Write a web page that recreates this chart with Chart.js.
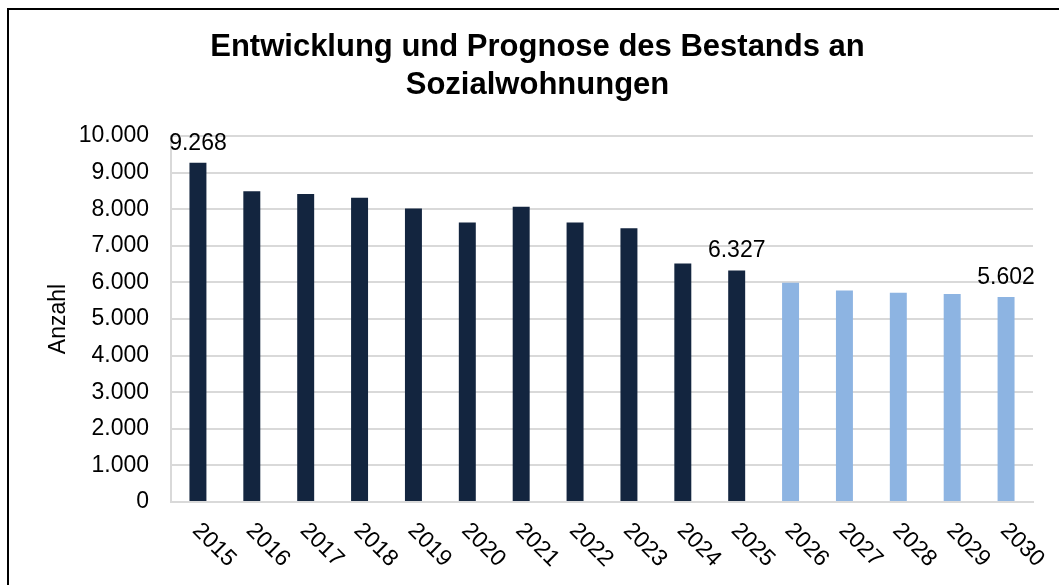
<!DOCTYPE html>
<html lang="de">
<head>
<meta charset="utf-8">
<title>Bestand an Sozialwohnungen</title>
<script src="https://cdn.jsdelivr.net/npm/chart.js@4/dist/chart.umd.min.js"></script>
<style>
    html, body { margin: 0; padding: 0; background: #ffffff; }
    #wrap { width: 1059px; height: 585px; }
</style>
</head>
<body>
<div id="wrap"><canvas id="chart" width="1059" height="585"></canvas></div>
<script>
// Daten
const jahre = ['2015', '2016', '2017', '2018', '2019', '2020', '2021', '2022',
               '2023', '2024', '2025', '2026', '2027', '2028', '2029', '2030'];
const bestand = [9268, 8490, 8415, 8315, 8020, 7640, 8070, 7640, 7480, 6520, 6327,
                 null, null, null, null, null];
const prognose = [null, null, null, null, null, null, null, null, null, null, null,
                  5990, 5780, 5720, 5680, 5602];
const labelJahre = ['2015', '2025', '2030'];
const yTicks = [0, 1000, 2000, 3000, 4000, 5000, 6000, 7000, 8000, 9000, 10000];

const FONT = '"Liberation Sans", Arial, sans-serif';

function formatDE(v) {
    return String(v).replace(/\B(?=(\d{3})+(?!\d))/g, '.');
}

// Rahmen um das Diagramm
const rahmenPlugin = {
    id: 'rahmen',
    beforeDraw(chart) {
        const ctx = chart.ctx;
        ctx.save();
        ctx.fillStyle = '#ffffff';
        ctx.fillRect(0, 0, chart.width, chart.height);
        ctx.strokeStyle = '#000000';
        ctx.lineWidth = 2;
        ctx.strokeRect(8, 9, chart.width + 20, chart.height + 20);
        ctx.restore();
    }
};

// schraege Jahresbeschriftung (nach rechts unten)
const xLabelPlugin = {
    id: 'xLabels',
    afterDraw(chart) {
        const ctx = chart.ctx;
        const xScale = chart.scales.x;
        ctx.save();
        ctx.fillStyle = '#000000';
        ctx.font = '23px ' + FONT;
        ctx.textAlign = 'left';
        ctx.textBaseline = 'middle';
        jahre.forEach((jahr, i) => {
            const x = xScale.getPixelForTick(i);
            ctx.save();
            ctx.translate(x - 2, xScale.top + 25);
            ctx.rotate(Math.PI / 4);
            ctx.fillText(jahr, 0, 0);
            ctx.restore();
        });
        ctx.restore();
    }
};

// Werte ueber ausgewaehlten Saeulen
const wertPlugin = {
    id: 'werte',
    afterDatasetsDraw(chart) {
        const ctx = chart.ctx;
        ctx.save();
        ctx.fillStyle = '#000000';
        ctx.font = '23px ' + FONT;
        ctx.textAlign = 'center';
        ctx.textBaseline = 'alphabetic';
        chart.data.datasets.forEach((ds, d) => {
            const meta = chart.getDatasetMeta(d);
            ds.data.forEach((v, i) => {
                if (v === null || !labelJahre.includes(jahre[i])) return;
                const bar = meta.data[i];
                ctx.fillText(formatDE(v), bar.x, bar.y - 13);
            });
        });
        ctx.restore();
    }
};

const ctx = document.getElementById('chart').getContext('2d');

const chart = new Chart(ctx, {
    type: 'bar',
    data: {
        labels: jahre,
        datasets: [{
            label: 'Bestand',
            data: bestand,
            backgroundColor: '#13253f',
            barPercentage: 0.315,
            categoryPercentage: 1
        }, {
            label: 'Prognose',
            data: prognose,
            backgroundColor: '#8db4e2',
            barPercentage: 0.315,
            categoryPercentage: 1
        }]
    },
    options: {
        responsive: false,
        animation: false,
        layout: {
            padding: { left: 42, right: 26, top: 0, bottom: 0 }
        },
        scales: {
            x: {
                stacked: true,
                grid: { display: false, drawTicks: false },
                border: { display: true, color: '#d9d9d9', width: 2 },
                ticks: { display: false },
                afterFit(scale) { scale.height = 83; }
            },
            y: {
                stacked: true,
                min: 0,
                max: 10000,
                afterBuildTicks(scale) {
                    scale.ticks = yTicks.map(v => ({ value: v }));
                },
                grid: { color: '#d9d9d9', lineWidth: 2, drawTicks: false },
                border: { display: true, color: '#d9d9d9', width: 2 },
                ticks: {
                    color: '#000000',
                    padding: 22,
                    font: { family: FONT, size: 23 },
                    callback: v => formatDE(v)
                },
                title: {
                    display: true,
                    text: 'Anzahl',
                    color: '#000000',
                    font: { family: FONT, size: 23 },
                    padding: { top: 3, bottom: 0 }
                },
                afterFit(scale) { scale.width = 129; }
            }
        },
        plugins: {
            legend: { display: false },
            tooltip: { enabled: false },
            title: {
                display: true,
                text: ['Entwicklung und Prognose des Bestands an', 'Sozialwohnungen'],
                color: '#000000',
                font: { family: FONT, size: 31, weight: 'bold', lineHeight: 1.226 },
                padding: { top: 28, bottom: 32 }
            }
        }
    },
    plugins: [rahmenPlugin, xLabelPlugin, wertPlugin]
});
</script>
</body>
</html>
